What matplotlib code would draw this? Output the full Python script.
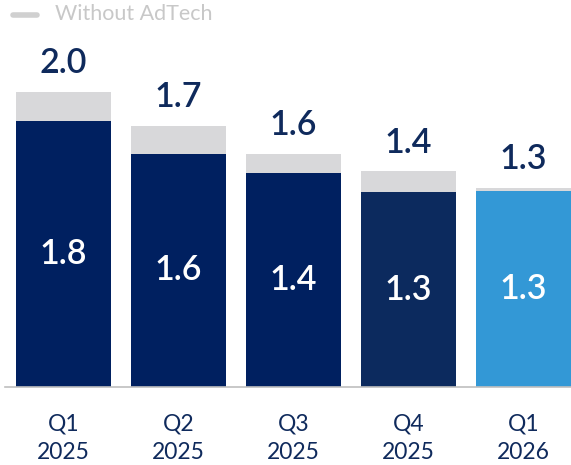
import matplotlib
matplotlib.use("Agg")
import matplotlib.pyplot as plt

categories = ["Q1\n2025", "Q2\n2025", "Q3\n2025", "Q4\n2025", "Q1\n2026"]
with_adtech = [1.80, 1.58, 1.45, 1.32, 1.33]
without_adtech = [2.00, 1.77, 1.58, 1.46, 1.35]
inner_labels = ["1.8", "1.6", "1.4", "1.3", "1.3"]
top_labels = ["2.0", "1.7", "1.6", "1.4", "1.3"]
bar_colors = ["#002060", "#002060", "#002060", "#0c2a5e", "#3398d6"]
gray = "#d8d8da"
navy = "#0f2a5c"

plt.rcParams['font.family'] = ['Lato', 'DejaVu Sans']

fig = plt.figure(figsize=(5.71, 4.65), dpi=100)
ax = fig.add_axes([5/571, 78/465, 566/571, 387/465])
ax.set_xlim(-0.509, 4.413)
ax.set_ylim(0, 387/147.7)

x = list(range(len(categories)))
width = 95/115
extra = [t - b for t, b in zip(without_adtech, with_adtech)]
ax.bar(x, with_adtech, width=width, color=bar_colors, zorder=2)
ax.bar(x, extra, bottom=with_adtech, width=width, color=gray, zorder=2)

for xi, b, t, il, tl in zip(x, with_adtech, without_adtech, inner_labels, top_labels):
    ax.text(xi, b/2, il, ha='center', va='center', color='white', fontsize=24.5, fontweight='semibold')
    ax.annotate(tl, (xi, t), xytext=(0, 9), textcoords='offset points', ha='center', va='bottom',
                color=navy, fontsize=24.5, fontweight='semibold')

for s in ['top', 'right', 'left']:
    ax.spines[s].set_visible(False)
ax.spines['bottom'].set_color('#bfbfbf')
ax.spines['bottom'].set_linewidth(1.2)
ax.set_yticks([])
ax.set_xticks(x)
ax.set_xticklabels(categories, color=navy, fontsize=16.5, linespacing=1.45)
ax.tick_params(axis='x', length=0, pad=19)

# legend
fig.lines.append(plt.Line2D([13/571, 37/571], [1 - 15/465, 1 - 15/465], transform=fig.transFigure,
                            color='#d0d0d0', linewidth=4, solid_capstyle='round'))
fig.text(55/571, 1 - 14/465, "Without AdTech", color='#c8c8c8', fontsize=15.5, va='center', ha='left')

fig.savefig("out.png", dpi=100)
